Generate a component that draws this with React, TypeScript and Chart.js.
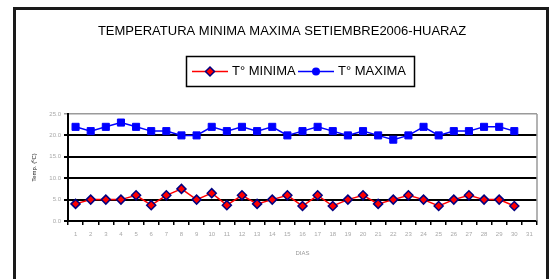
import React, { useEffect, useRef } from "react";
import { Chart, registerables } from "chart.js";

Chart.register(...registerables);

const chartTitle = "TEMPERATURA MINIMA MAXIMA SETIEMBRE2006-HUARAZ";
const dayLabels = [
  "1", "2", "3", "4", "5", "6", "7", "8", "9", "10",
  "11", "12", "13", "14", "15", "16", "17", "18", "19", "20",
  "21", "22", "23", "24", "25", "26", "27", "28", "29", "30", "31",
];
const tMin = [4, 5, 5, 5, 6, 3.7, 6, 7.5, 5, 6.5, 3.7, 6, 4, 5, 6, 3.5, 6, 3.5, 5, 6, 4, 5, 6, 5, 3.5, 5, 6, 5, 5, 3.5];
const tMax = [22, 21, 22, 23, 22, 21, 21, 20, 20, 22, 21, 22, 21, 22, 20, 21, 22, 21, 20, 21, 20, 19, 20, 22, 20, 21, 21, 22, 22, 21];
const seriesNames = ["T\u00b0 MINIMA", "T\u00b0 MAXIMA"];
const yMin = 0;
const yMax = 25;
const yStep = 5;
const xTitle = "DIAS";
const yTitle = "Temp. (\u00baC)";

const FONT = "'Liberation Sans', Arial, sans-serif";

const decorPlugin = {
  id: "decor",
  beforeDraw(chart: any) {
    const ctx = chart.ctx;
    ctx.save();
    ctx.fillStyle = "#ffffff";
    ctx.fillRect(0, 0, chart.width, chart.height);
    ctx.restore();
  },
  beforeDatasetsDraw(chart: any) {
    const { ctx, chartArea } = chart;
    ctx.save();
    ctx.strokeStyle = "#9a9a9a";
    ctx.lineWidth = 1.5;
    ctx.beginPath();
    ctx.moveTo(chartArea.right, chartArea.top);
    ctx.lineTo(chartArea.right, chartArea.bottom);
    ctx.stroke();
    ctx.restore();
  },
  afterDraw(chart: any) {
    const ctx = chart.ctx;
    ctx.save();
    // outer frame
    ctx.strokeStyle = "#1a1a1a";
    ctx.lineWidth = 3;
    ctx.beginPath();
    ctx.moveTo(14.5, 280);
    ctx.lineTo(14.5, 8.5);
    ctx.lineTo(547.5, 8.5);
    ctx.lineTo(547.5, 280);
    ctx.stroke();

    // title
    ctx.fillStyle = "#000";
    ctx.font = `13px ${FONT}`;
    ctx.textAlign = "center";
    ctx.textBaseline = "middle";
    ctx.fillText(chartTitle, 282, 31);

    // legend box
    ctx.lineWidth = 1.5;
    ctx.strokeStyle = "#000";
    ctx.strokeRect(186.5, 56.5, 228, 30);
    const items = chart.data.datasets;
    const starts = [192, 298];
    items.forEach((ds: any, i: number) => {
      const x0 = starts[i];
      const y = 71.5;
      ctx.strokeStyle = ds.borderColor;
      ctx.lineWidth = 1.5;
      ctx.beginPath();
      ctx.moveTo(x0, y);
      ctx.lineTo(x0 + 36, y);
      ctx.stroke();
      const cx = x0 + 18;
      ctx.fillStyle = ds.pointBackgroundColor;
      ctx.strokeStyle = ds.pointBorderColor;
      if (i === 0) {
        ctx.beginPath();
        ctx.moveTo(cx, y - 4.5);
        ctx.lineTo(cx + 4.5, y);
        ctx.lineTo(cx, y + 4.5);
        ctx.lineTo(cx - 4.5, y);
        ctx.closePath();
        ctx.fill();
        ctx.stroke();
      } else {
        ctx.beginPath();
        ctx.arc(cx, y, 4, 0, Math.PI * 2);
        ctx.fill();
      }
      ctx.fillStyle = "#000";
      ctx.font = `13px ${FONT}`;
      ctx.textAlign = "left";
      ctx.textBaseline = "middle";
      ctx.fillText(ds.label, x0 + 40, y);
    });
    ctx.restore();
  },
};

export default function App() {
  const ref = useRef<HTMLCanvasElement | null>(null);

  useEffect(() => {
    if (!ref.current) return;
    const chart = new Chart(ref.current, {
      type: "line",
      data: {
        labels: dayLabels,
        datasets: [
          {
            label: seriesNames[0],
            data: tMin,
            borderColor: "#ff0000",
            backgroundColor: "#ff0000",
            borderWidth: 1.5,
            pointStyle: "rectRot",
            pointRadius: 4.5,
            pointBackgroundColor: "#ff0000",
            pointBorderColor: "#000080",
            pointBorderWidth: 1.5,
            tension: 0,
          },
          {
            label: seriesNames[1],
            data: tMax,
            borderColor: "#0000ff",
            backgroundColor: "#0000ff",
            borderWidth: 1.5,
            pointStyle: "rect",
            pointRadius: 5,
            pointBackgroundColor: "#0000ff",
            pointBorderColor: "#0000ff",
            pointBorderWidth: 1,
            tension: 0,
          },
        ],
      },
      options: {
        responsive: false,
        animation: false,
        devicePixelRatio: 1,
        layout: { padding: { top: 114, right: 20, left: 0, bottom: 0 } },
        plugins: {
          legend: { display: false },
          title: { display: false },
          tooltip: { enabled: false },
        },
        scales: {
          x: {
            type: "category",
            offset: true,
            grid: {
              offset: true,
              drawOnChartArea: false,
              drawTicks: true,
              tickLength: 4,
              color: "#000",
              lineWidth: 1.5,
            },
            border: { display: true, color: "#000", width: 2 },
            ticks: {
              color: "#a8a8a8",
              font: { size: 6, family: FONT },
              padding: 6,
              maxRotation: 0,
              autoSkip: false,
            },
            title: {
              display: true,
              text: xTitle,
              color: "#9a9a9a",
              font: { size: 6, family: FONT },
              padding: { top: 0, bottom: 22 },
            },
            afterFit: (s: any) => {
              s.height = 58;
            },
          },
          y: {
            min: yMin,
            max: yMax,
            ticks: {
              stepSize: yStep,
              callback: (v: any) => Number(v).toFixed(1),
              color: "#a8a8a8",
              font: { size: 6, family: FONT },
              padding: 3,
            },
            grid: {
              color: (c: any) => (c.tick && c.tick.value === yMax ? "#9a9a9a" : "#000"),
              lineWidth: (c: any) => (c.tick && c.tick.value === yMax ? 1.5 : 2),
              drawTicks: true,
              tickLength: 4,
            },
            border: { display: true, color: "#000", width: 2 },
            title: {
              display: true,
              text: yTitle,
              color: "#222",
              font: { size: 6, family: FONT },
              padding: { top: 31, bottom: 0 },
            },
            afterFit: (s: any) => {
              s.width = 68;
            },
          },
        },
      },
      plugins: [decorPlugin],
    });
    return () => chart.destroy();
  }, []);

  return (
    <div style={{ position: "absolute", left: 0, top: 0, width: 557, height: 279 }}>
      <canvas ref={ref} width={557} height={279} style={{ display: "block", width: 557, height: 279 }} />
    </div>
  );
}
